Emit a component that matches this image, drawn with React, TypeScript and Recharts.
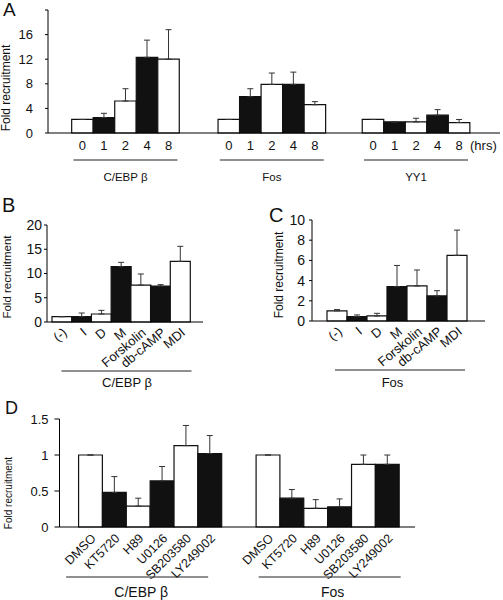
import { Bar, BarChart, Cell, ErrorBar, XAxis, YAxis } from "recharts";

// Panel A: time course (hrs) for three factors
const HOURS = ["0", "1", "2", "4", "8"];
const A_GROUPS = ["C/EBP β", "Fos", "YY1"];
const A_VALUES = [
  [2.2, 2.5, 5.2, 12.3, 12.0],
  [2.2, 5.9, 7.9, 7.9, 4.6],
  [2.2, 1.8, 1.8, 2.9, 1.7],
];
const A_ERRORS = [
  [0, 0.7, 2.0, 2.8, 4.8],
  [0, 1.3, 1.85, 2.0, 0.5],
  [0, 0, 0.6, 0.9, 0.5],
];
const A_TICKS = [0, 4, 8, 12, 16, 20];

// Panels B / C: treatments
const TREATMENTS = ["(-)", "I", "D", "M", "Forskolin", "db-cAMP", "MDI"];
const B_VALUES = [1.1, 1.1, 1.65, 11.4, 7.6, 7.4, 12.5];
const B_ERRORS = [0, 0.75, 0.75, 0.9, 2.3, 0.3, 3.1];
const B_TICKS = [0, 5, 10, 15, 20];
const C_VALUES = [1.0, 0.43, 0.5, 3.4, 3.47, 2.48, 6.5];
const C_ERRORS = [0.13, 0.17, 0.26, 2.1, 1.58, 0.52, 2.5];
const C_TICKS = [0, 2, 4, 6, 8, 10];

// Panel D: inhibitors
const INHIBITORS = ["DMSO", "KT5720", "H89", "U0126", "SB203580", "LY249002"];
const D_GROUPS = ["C/EBP β", "Fos"];
const D_VALUES = [
  [1.0, 0.48, 0.29, 0.64, 1.13, 1.02],
  [1.0, 0.4, 0.26, 0.28, 0.87, 0.87],
];
const D_ERRORS = [
  [0, 0.22, 0.11, 0.2, 0.28, 0.25],
  [0, 0.12, 0.12, 0.11, 0.13, 0.13],
];
const D_TICKS = [0, 0.5, 1, 1.5];

// layout of the grouped panels on a numeric axis (units = one bar width)
const A_SPAN = 21;
const A_START = [1.1, 7.9, 14.6];
const D_SPAN = 14.9;
const D_START = [0.8, 8.24];

const INK = "#111";
const FONT = '"Liberation Sans", Arial, sans-serif';

const rowsA = A_GROUPS.flatMap((g, gi) =>
  HOURS.map((h, i) => ({
    x: A_START[gi] + i + 0.5,
    label: h,
    group: g,
    value: A_VALUES[gi][i],
    err: [0, A_ERRORS[gi][i]],
    dark: i % 2 === 1,
  })),
);
const rowsB = TREATMENTS.map((name, i) => ({
  name, group: "C/EBP β", value: B_VALUES[i], err: [0, B_ERRORS[i]], dark: i % 2 === 1,
}));
const rowsC = TREATMENTS.map((name, i) => ({
  name, group: "Fos", value: C_VALUES[i], err: [0, C_ERRORS[i]], dark: i % 2 === 1,
}));
const rowsD = D_GROUPS.flatMap((g, gi) =>
  INHIBITORS.map((name, i) => ({
    x: D_START[gi] + i + 0.5,
    label: name,
    group: g,
    value: D_VALUES[gi][i],
    err: [0, D_ERRORS[gi][i]],
    dark: i % 2 === 1,
  })),
);

function slantTick(p: any, names: (v: any) => string, rot: number, fs: number) {
  return (
    <text
      transform={`translate(${p.x + 6},${p.y + 12}) rotate(${rot})`}
      textAnchor="end"
      fontSize={fs}
      fill={INK}
    >
      {names(p.payload.value)}
    </text>
  );
}

interface GroupOpts {
  lineDy: number;
  textDy: number;
  half: number;
  fs: number;
  lineShift?: number[];
  textShift?: number[];
}

function groupTick(p: any, names: string[], o: GroupOpts) {
  const i = p.index ?? 0;
  const lx = p.x + (o.lineShift?.[i] ?? 0);
  const tx = p.x + (o.textShift?.[i] ?? 0);
  return (
    <g>
      <line x1={lx - o.half} x2={lx + o.half} y1={p.y + o.lineDy} y2={p.y + o.lineDy} stroke="#222" strokeWidth={1.2} />
      <text x={tx} y={p.y + o.textDy} textAnchor="middle" fontSize={o.fs} fill={INK}>
        {names[i]}
      </text>
    </g>
  );
}

function AxisTitle(props: any) {
  const { viewBox, dx, dy, fs } = props;
  return (
    <text
      transform={`translate(${viewBox.x + dx},${viewBox.y + dy}) rotate(-90)`}
      textAnchor="middle"
      fontSize={fs}
      fill={INK}
    >
      Fold recruitment
    </text>
  );
}

function HrsLabel(props: any) {
  const { viewBox } = props;
  return (
    <text x={viewBox.x + 422} y={viewBox.y + 17} fontSize={13} fill={INK}>
      (hrs)
    </text>
  );
}

const barProps = { stroke: INK, strokeWidth: 1.2, isAnimationActive: false };
const errProps = { dataKey: "err", width: 3, stroke: "#333", strokeWidth: 1 };

const labelAt = (rows: { x: number; label: string }[]) => (v: number) =>
  rows.find((r) => Math.abs(r.x - v) < 1e-6)?.label ?? "";

function Letter({ ch, left, top, size }: { ch: string; left: number; top: number; size: number }) {
  return (
    <div style={{ position: "absolute", left, top, fontSize: size, lineHeight: 1, color: INK }}>{ch}</div>
  );
}

export default function App() {
  return (
    <div style={{ position: "absolute", left: 0, top: 0, width: 503, height: 600, background: "#fff", fontFamily: FONT }}>
      {/* ---------------- A: time course */}
      <div style={{ position: "absolute", left: 0, top: 0 }}>
        <BarChart width={503} height={193} data={rowsA} margin={{ top: 10, right: 3, left: 0, bottom: 0 }}>
          <XAxis
            type="number" dataKey="x" domain={[0, A_SPAN]} ticks={rowsA.map((r) => r.x)} interval={0}
            tickFormatter={labelAt(rowsA)} tickLine={false} tickSize={0} tickMargin={8} height={20}
            axisLine={{ stroke: "#000" }} tick={{ fontSize: 13, fill: INK }} label={<HrsLabel />}
          />
          <XAxis
            xAxisId="grp" type="number" dataKey="x" domain={[0, A_SPAN]} ticks={A_START.map((s) => s + 2.5)}
            interval={0} axisLine={false} tickLine={false} tickSize={0} tickMargin={0} height={40}
            tick={(p: any) => groupTick(p, A_GROUPS, { lineDy: 7, textDy: 28, half: 52, fs: 11.5 })}
          />
          <YAxis
            domain={[0, 20]} ticks={A_TICKS} interval={0} width={48} tickSize={3} tickMargin={12}
            tickFormatter={(v: number) => (v === 20 ? "" : String(v))}
            axisLine={{ stroke: "#000" }} tickLine={{ stroke: "#000" }} tick={{ fontSize: 13, fill: INK }}
            label={<AxisTitle dx={10} dy={78} fs={12} />}
          />
          <Bar dataKey="value" barSize={21.5} {...barProps}>
            {rowsA.map((r, i) => <Cell key={i} fill={r.dark ? INK : "#fff"} />)}
            <ErrorBar {...errProps} direction="y" />
          </Bar>
        </BarChart>
      </div>

      {/* ---------------- B: C/EBP beta treatments */}
      <div style={{ position: "absolute", left: 0, top: 215 }}>
        <BarChart width={215} height={176} data={rowsB} barCategoryGap={0} margin={{ top: 10, right: 12, left: 0, bottom: 0 }}>
          <XAxis
            dataKey="name" padding={{ left: 5, right: 13 }} interval={0} tickLine={false} tickSize={0} tickMargin={0}
            height={44} axisLine={{ stroke: "#000" }}
            tick={(p: any) => slantTick(p, (v) => String(v), -40, 13)}
          />
          <XAxis
            xAxisId="grp" dataKey="group" allowDuplicatedCategory={false} axisLine={false} tickLine={false}
            tickSize={0} tickMargin={0} height={25}
            tick={(p: any) => groupTick(p, ["C/EBP β"], { lineDy: 5, textDy: 21, half: 65, fs: 13, lineShift: [1.5], textShift: [2] })}
          />
          <YAxis
            domain={[0, 20]} ticks={B_TICKS} interval={0} width={47} tickSize={3} tickMargin={2}
            axisLine={{ stroke: "#000" }} tickLine={{ stroke: "#000" }} tick={{ fontSize: 14, fill: INK }}
            label={<AxisTitle dx={11} dy={52} fs={11.5} />}
          />
          <Bar dataKey="value" {...barProps}>
            {rowsB.map((r, i) => <Cell key={i} fill={r.dark ? INK : "#fff"} />)}
            <ErrorBar {...errProps} direction="y" />
          </Bar>
        </BarChart>
      </div>

      {/* ---------------- C: Fos treatments */}
      <div style={{ position: "absolute", left: 262, top: 210 }}>
        <BarChart width={230} height={180} data={rowsC} barCategoryGap={0} margin={{ top: 10, right: 7, left: 0, bottom: 0 }}>
          <XAxis
            dataKey="name" padding={{ left: 15, right: 18 }} interval={0} tickLine={false} tickSize={0} tickMargin={0}
            height={44} axisLine={{ stroke: "#000" }}
            tick={(p: any) => slantTick(p, (v) => String(v), -40, 13)}
          />
          <XAxis
            xAxisId="grp" dataKey="group" allowDuplicatedCategory={false} axisLine={false} tickLine={false}
            tickSize={0} tickMargin={0} height={25}
            tick={(p: any) => groupTick(p, ["Fos"], { lineDy: 5, textDy: 22, half: 65, fs: 13, lineShift: [1.5], textShift: [-6] })}
          />
          <YAxis
            domain={[0, 10]} ticks={C_TICKS} interval={0} width={50} tickSize={3} tickMargin={4}
            axisLine={{ stroke: "#000" }} tickLine={{ stroke: "#000" }} tick={{ fontSize: 14, fill: INK }}
            label={<AxisTitle dx={21} dy={55} fs={12} />}
          />
          <Bar dataKey="value" {...barProps}>
            {rowsC.map((r, i) => <Cell key={i} fill={r.dark ? INK : "#fff"} />)}
            <ErrorBar {...errProps} direction="y" />
          </Bar>
        </BarChart>
      </div>

      {/* ---------------- D: inhibitors */}
      <div style={{ position: "absolute", left: 0, top: 409 }}>
        <BarChart width={430} height={191} data={rowsD} margin={{ top: 10, right: 15, left: 0, bottom: 0 }}>
          <XAxis
            type="number" dataKey="x" domain={[0, D_SPAN]} ticks={rowsD.map((r) => r.x)} interval={0}
            tickLine={false} tickSize={0} tickMargin={0} height={45} axisLine={{ stroke: "#000" }}
            tick={(p: any) => slantTick(p, labelAt(rowsD), -45, 12.5)}
          />
          <XAxis
            xAxisId="grp" type="number" dataKey="x" domain={[0, D_SPAN]} ticks={D_START.map((s) => s + 3)}
            interval={0} axisLine={false} tickLine={false} tickSize={0} tickMargin={0} height={28}
            tick={(p: any) => groupTick(p, D_GROUPS, { lineDy: 5, textDy: 25, half: 71, fs: 14, lineShift: [-13, 2], textShift: [-9, 5] })}
          />
          <YAxis
            domain={[0, 1.5]} ticks={D_TICKS} interval={0} width={59.5} tickSize={5} tickMargin={6}
            axisLine={{ stroke: "#000" }} tickLine={{ stroke: "#000" }} tick={{ fontSize: 13, fill: INK }}
            label={<AxisTitle dx={12} dy={74} fs={10} />}
          />
          <Bar dataKey="value" barSize={23.8} {...barProps}>
            {rowsD.map((r, i) => <Cell key={i} fill={r.dark ? INK : "#fff"} />)}
            <ErrorBar {...errProps} direction="y" />
          </Bar>
        </BarChart>
      </div>

      <Letter ch="A" left={3} top={0} size={19} />
      <Letter ch="B" left={2} top={195} size={20} />
      <Letter ch="C" left={269} top={205} size={20} />
      <Letter ch="D" left={5} top={399} size={18} />
    </div>
  );
}
